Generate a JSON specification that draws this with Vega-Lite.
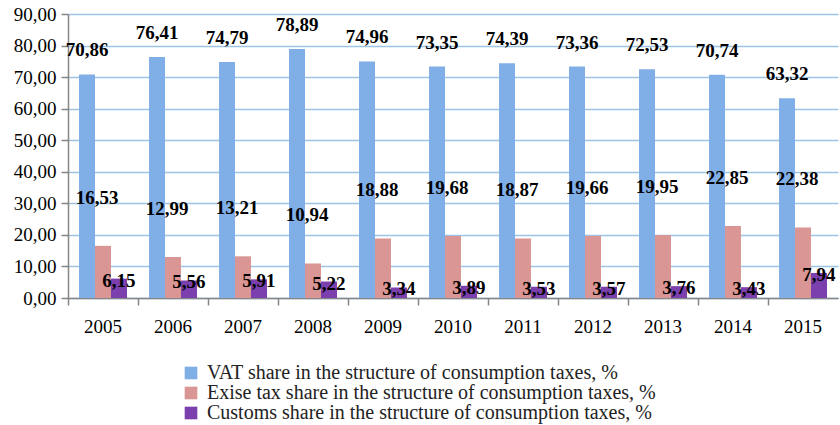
{
  "$schema": "https://vega.github.io/schema/vega-lite/v6.json",
  "width": 770,
  "height": 284,
  "autosize": "none",
  "padding": {"left": 68, "top": 14, "right": 2, "bottom": 127},
  "background": "white",
  "config": {
    "locale": {"number": {"decimal": ",", "thousands": " ", "grouping": [3], "currency": ["", ""]}},
    "view": {"stroke": null},
    "font": "'Liberation Serif', 'Times New Roman', serif",
    "text": {"font": "'Liberation Serif', 'Times New Roman', serif"},
    "axis": {"labelFont": "'Liberation Serif', 'Times New Roman', serif"},
    "legend": {"labelFont": "'Liberation Serif', 'Times New Roman', serif"}
  },
  "data": {
    "values": [
      {"year": "2005", "series": "VAT share in the structure of consumption taxes, %", "value": 70.86},
      {"year": "2006", "series": "VAT share in the structure of consumption taxes, %", "value": 76.41},
      {"year": "2007", "series": "VAT share in the structure of consumption taxes, %", "value": 74.79},
      {"year": "2008", "series": "VAT share in the structure of consumption taxes, %", "value": 78.89},
      {"year": "2009", "series": "VAT share in the structure of consumption taxes, %", "value": 74.96},
      {"year": "2010", "series": "VAT share in the structure of consumption taxes, %", "value": 73.35},
      {"year": "2011", "series": "VAT share in the structure of consumption taxes, %", "value": 74.39},
      {"year": "2012", "series": "VAT share in the structure of consumption taxes, %", "value": 73.36},
      {"year": "2013", "series": "VAT share in the structure of consumption taxes, %", "value": 72.53},
      {"year": "2014", "series": "VAT share in the structure of consumption taxes, %", "value": 70.74},
      {"year": "2015", "series": "VAT share in the structure of consumption taxes, %", "value": 63.32},
      {"year": "2005", "series": "Exise tax share in the structure of consumption taxes, %", "value": 16.53},
      {"year": "2006", "series": "Exise tax share in the structure of consumption taxes, %", "value": 12.99},
      {"year": "2007", "series": "Exise tax share in the structure of consumption taxes, %", "value": 13.21},
      {"year": "2008", "series": "Exise tax share in the structure of consumption taxes, %", "value": 10.94},
      {"year": "2009", "series": "Exise tax share in the structure of consumption taxes, %", "value": 18.88},
      {"year": "2010", "series": "Exise tax share in the structure of consumption taxes, %", "value": 19.68},
      {"year": "2011", "series": "Exise tax share in the structure of consumption taxes, %", "value": 18.87},
      {"year": "2012", "series": "Exise tax share in the structure of consumption taxes, %", "value": 19.66},
      {"year": "2013", "series": "Exise tax share in the structure of consumption taxes, %", "value": 19.95},
      {"year": "2014", "series": "Exise tax share in the structure of consumption taxes, %", "value": 22.85},
      {"year": "2015", "series": "Exise tax share in the structure of consumption taxes, %", "value": 22.38},
      {"year": "2005", "series": "Customs share in the structure of consumption taxes, %", "value": 6.15},
      {"year": "2006", "series": "Customs share in the structure of consumption taxes, %", "value": 5.56},
      {"year": "2007", "series": "Customs share in the structure of consumption taxes, %", "value": 5.91},
      {"year": "2008", "series": "Customs share in the structure of consumption taxes, %", "value": 5.22},
      {"year": "2009", "series": "Customs share in the structure of consumption taxes, %", "value": 3.34},
      {"year": "2010", "series": "Customs share in the structure of consumption taxes, %", "value": 3.89},
      {"year": "2011", "series": "Customs share in the structure of consumption taxes, %", "value": 3.53},
      {"year": "2012", "series": "Customs share in the structure of consumption taxes, %", "value": 3.57},
      {"year": "2013", "series": "Customs share in the structure of consumption taxes, %", "value": 3.76},
      {"year": "2014", "series": "Customs share in the structure of consumption taxes, %", "value": 3.43},
      {"year": "2015", "series": "Customs share in the structure of consumption taxes, %", "value": 7.94}
    ]
  },
  "encoding": {
    "x": {
      "field": "year", "type": "nominal",
      "scale": {"paddingInner": 0, "paddingOuter": 0},
      "axis": {
        "title": null, "labelAngle": 0, "labelFontSize": 19, "labelColor": "#000000",
        "labelPadding": 12,
        "domainColor": "#868686", "domainWidth": 1.5, "tickColor": "#868686", "tickWidth": 1.5,
        "tickSize": 7, "bandPosition": 0, "grid": false
      }
    },
    "xOffset": {
      "field": "series", "type": "nominal",
      "scale": {
        "domain": ["VAT share in the structure of consumption taxes, %", "Exise tax share in the structure of consumption taxes, %", "Customs share in the structure of consumption taxes, %"],
        "paddingInner": 0, "paddingOuter": 0.69
      }
    },
    "y": {
      "field": "value", "type": "quantitative",
      "scale": {"domain": [0, 90]},
      "axis": {
        "title": null, "values": [0, 10, 20, 30, 40, 50, 60, 70, 80, 90], "format": ".2f",
        "labelFontSize": 19, "labelColor": "#000000", "labelPadding": 5,
        "domainColor": "#868686", "domainWidth": 1.5, "tickColor": "#868686", "tickWidth": 1.5, "tickSize": 7,
        "gridColor": "#9DC3E6", "gridWidth": 1.5
      }
    }
  },
  "layer": [
    {
      "mark": {"type": "bar"},
      "encoding": {
        "color": {
          "field": "series", "type": "nominal",
          "scale": {
            "domain": ["VAT share in the structure of consumption taxes, %", "Exise tax share in the structure of consumption taxes, %", "Customs share in the structure of consumption taxes, %"],
            "range": ["#80AEE6", "#D99694", "#7B40AD"]
          },
          "legend": {
            "title": null, "orient": "none", "legendX": 113, "legendY": 349,
            "symbolType": "square", "symbolSize": 160, "symbolStrokeWidth": 0, "symbolOpacity": 1,
            "labelFontSize": 20, "labelColor": "#222222",
            "rowPadding": 0, "labelOffset": 6, "labelLimit": 700
          }
        }
      }
    },
    {
      "transform": [{"filter": "datum.series === 'VAT share in the structure of consumption taxes, %'"}],
      "mark": {"type": "text", "fontWeight": "bold", "fontSize": 19, "baseline": "alphabetic", "dy": -18, "color": "#000000"},
      "encoding": {"text": {"field": "value", "type": "quantitative", "format": ".2f"}}
    },
    {
      "transform": [{"filter": "datum.series === 'Exise tax share in the structure of consumption taxes, %'"}],
      "mark": {"type": "text", "fontWeight": "bold", "fontSize": 19, "baseline": "alphabetic", "dy": -42, "dx": -6, "color": "#000000"},
      "encoding": {"text": {"field": "value", "type": "quantitative", "format": ".2f"}}
    },
    {
      "transform": [{"filter": "datum.series === 'Customs share in the structure of consumption taxes, %'"}],
      "mark": {"type": "text", "fontWeight": "bold", "fontSize": 19, "baseline": "alphabetic", "dy": 8, "color": "#000000"},
      "encoding": {"text": {"field": "value", "type": "quantitative", "format": ".2f"}}
    }
  ]
}
